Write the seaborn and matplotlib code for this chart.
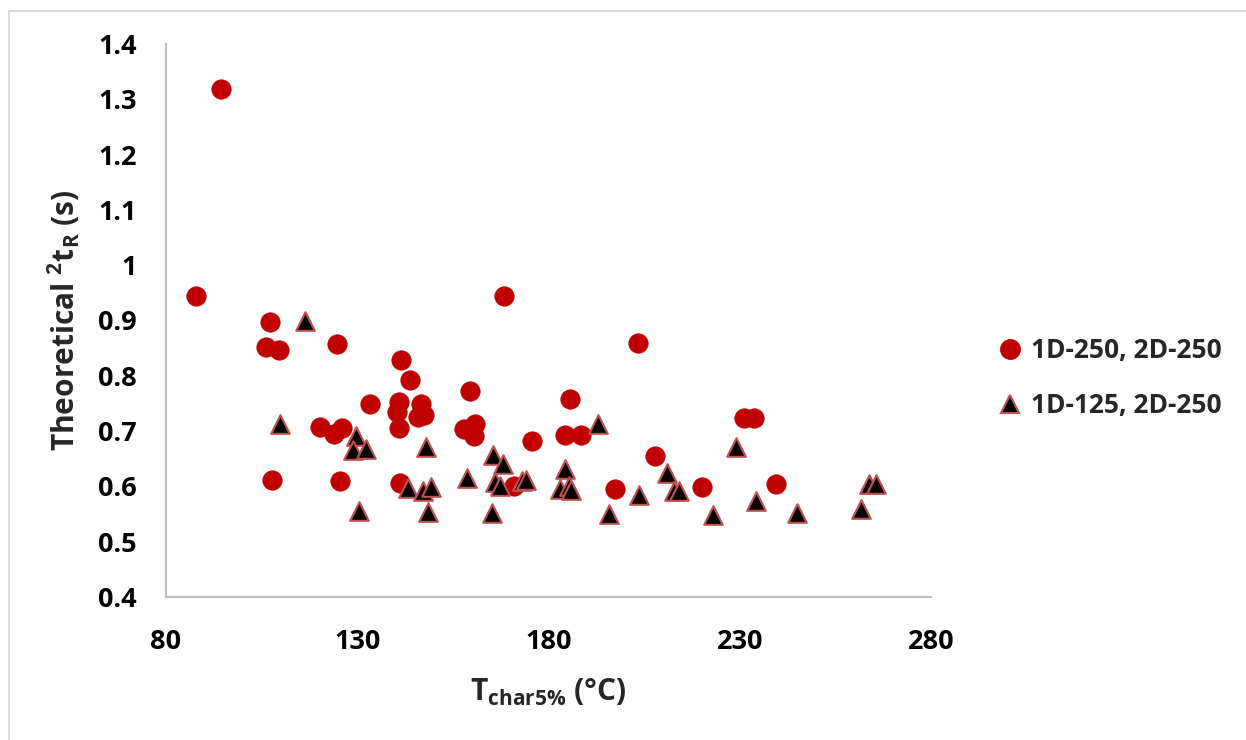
import matplotlib
matplotlib.use("Agg")
import matplotlib.pyplot as plt
from matplotlib.lines import Line2D
from matplotlib.patches import Rectangle
from matplotlib.ticker import FuncFormatter, MultipleLocator
import numpy as np
import pandas as pd
import seaborn as sns

# Series 1: 1D-250, 2D-250 column set
t_char_250 = [94.4, 87.8, 168.4, 107.1, 106.2, 109.5, 124.8, 141.5, 143.8, 159.4,
              133.4, 141.0, 140.3, 146.6, 145.8, 147.4, 140.9, 120.3, 123.9, 125.9,
              157.9, 160.7, 160.5, 175.6, 107.8, 125.4, 141.3, 171.1, 203.3, 185.6,
              184.3, 188.5, 207.9, 197.4, 220.2, 231.2, 233.8, 239.4]
tr_250 = [1.318, 0.945, 0.945, 0.897, 0.852, 0.846, 0.858, 0.828, 0.793, 0.773,
          0.749, 0.752, 0.735, 0.749, 0.725, 0.729, 0.706, 0.708, 0.694, 0.705,
          0.704, 0.713, 0.691, 0.682, 0.611, 0.609, 0.606, 0.601, 0.860, 0.758,
          0.693, 0.693, 0.655, 0.595, 0.599, 0.723, 0.723, 0.605]

# Series 2: 1D-125, 2D-250 column set
t_char_125 = [116.4, 109.9, 129.7, 128.8, 132.3, 148.0, 165.4, 168.1, 165.9, 167.2,
              173.1, 174.1, 158.6, 143.3, 147.2, 149.2, 130.5, 148.4, 165.3, 193.0,
              184.2, 183.1, 185.3, 186.0, 211.0, 212.8, 214.1, 203.6, 195.8, 222.9,
              229.1, 234.2, 244.9, 261.6, 263.7, 265.5]
tr_125 = [0.899, 0.712, 0.692, 0.666, 0.667, 0.672, 0.657, 0.641, 0.608, 0.600,
          0.609, 0.611, 0.615, 0.598, 0.591, 0.599, 0.555, 0.554, 0.552, 0.713,
          0.631, 0.596, 0.600, 0.593, 0.624, 0.591, 0.591, 0.585, 0.550, 0.548,
          0.672, 0.574, 0.552, 0.560, 0.605, 0.605]

series_labels = ["1D-250, 2D-250", "1D-125, 2D-250"]
x_ticks = [80, 130, 180, 230, 280]

FONT = "Open Sans"

sns.set_theme(style="white")
plt.rcParams["font.family"] = [FONT, "DejaVu Sans"]
plt.rcParams["font.weight"] = "bold"
plt.rcParams["mathtext.fontset"] = "custom"
plt.rcParams["mathtext.rm"] = f"{FONT}:bold"
plt.rcParams["mathtext.it"] = f"{FONT}:bold"
plt.rcParams["mathtext.bf"] = f"{FONT}:bold"

W, H = 1246, 740
fig = plt.figure(figsize=(W / 100, H / 100), dpi=100)
ax = fig.add_axes([166 / W, 1 - 597 / H, (931 - 166) / W, (597 - 44) / H])

df1 = pd.DataFrame({"T": t_char_250, "tR": tr_250})
df2 = pd.DataFrame({"T": t_char_125, "tR": tr_125})

circle_red = "#C00000"
tri_edge = "#C0504D"

sns.scatterplot(data=df1, x="T", y="tR", ax=ax, marker="o", s=200,
                color=circle_red, edgecolor=circle_red, linewidth=0.3,
                legend=False, zorder=3)
sns.scatterplot(data=df2, x="T", y="tR", ax=ax, marker="^", s=180,
                color="black", edgecolor=tri_edge, linewidth=1.5,
                legend=False, zorder=4)

ax.set_xlim(80, 280)
ax.set_ylim(0.4, 1.4)
ax.set_xticks(x_ticks)
ax.yaxis.set_major_locator(MultipleLocator(0.1))
ax.yaxis.set_major_formatter(FuncFormatter(lambda v, p: f"{round(v, 1):g}"))
ax.tick_params(axis="both", length=0, labelsize=19.5, colors="black")
ax.tick_params(axis="y", pad=21)
ax.tick_params(axis="x", pad=23)
for lbl in ax.get_xticklabels() + ax.get_yticklabels():
    lbl.set_fontweight("bold")

for side in ("top", "right"):
    ax.spines[side].set_visible(False)
for side in ("left", "bottom"):
    ax.spines[side].set_color("#BFBFBF")
    ax.spines[side].set_linewidth(1.5)

ax.set_xlabel(r"T$_{\mathrm{char5\%}}$ (°C)", fontsize=21.5, fontweight="bold",
              va="center")
ax.xaxis.set_label_coords(0.5, (597 - 692) / (597 - 44))
ax.set_ylabel(r"Theoretical ${}^{2}$t$_{\mathrm{R}}$ (s)", fontsize=21.5,
              fontweight="bold", va="center")
ax.yaxis.set_label_coords((64 - 166) / (931 - 166), 0.5)

handles = [
    Line2D([], [], linestyle="none", marker="o", markersize=14,
           markerfacecolor=circle_red, markeredgecolor=circle_red),
    Line2D([], [], linestyle="none", marker="^", markersize=13,
           markerfacecolor="black", markeredgecolor=tri_edge,
           markeredgewidth=1.5),
]
fig.legend(handles, series_labels, loc="center left",
           bbox_to_anchor=(998 / W, 1 - 378 / H), frameon=False,
           prop={"family": FONT, "weight": "bold", "size": 19},
           handlelength=0.9, handletextpad=0.35, labelspacing=1.08,
           borderpad=0, borderaxespad=0)

# Light chart-area frame
fig.add_artist(Rectangle((8.5 / W, -0.05), 1.2, 1.05 - 11.5 / H,
                         transform=fig.transFigure, fill=False,
                         edgecolor="#D9D9D9", linewidth=1.5, zorder=0))

fig.savefig("out.png", dpi=100)
